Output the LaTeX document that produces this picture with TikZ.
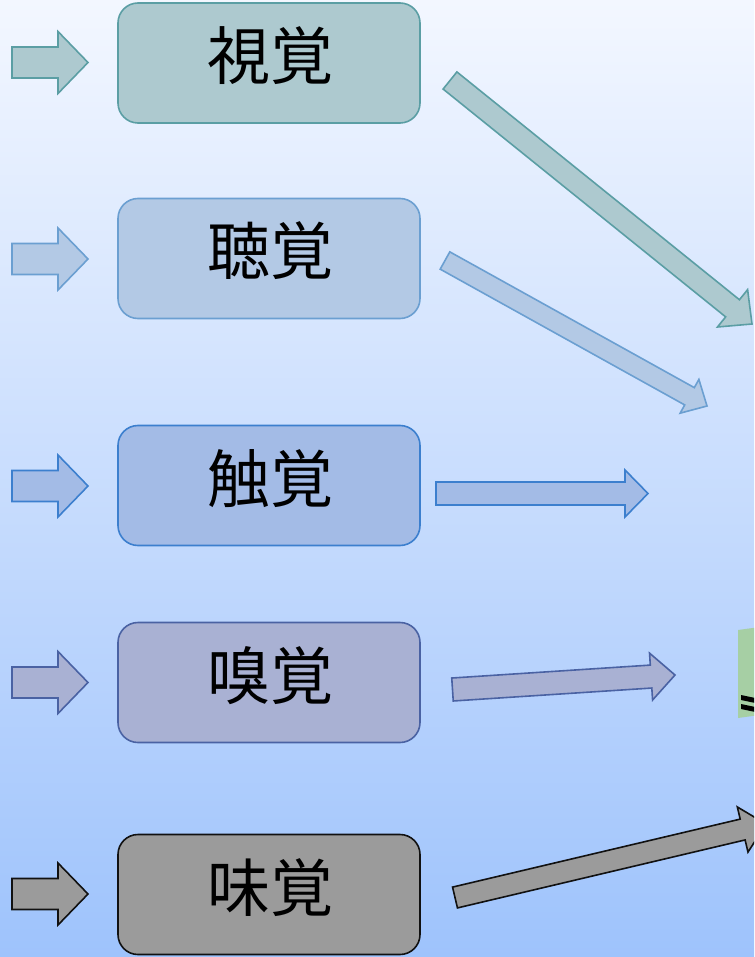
\documentclass[tikz,border=0pt]{standalone}
\usepackage{fontspec}
\newfontfamily\jpfont{Noto Sans CJK JP}
\usetikzlibrary{calc}
\definecolor{bgtop}{HTML}{F3F7FF}
\definecolor{bgbot}{HTML}{9EC3FC}
\definecolor{aF}{HTML}{ADC9CF}\definecolor{aD}{HTML}{5B9EA4}
\definecolor{bF}{HTML}{B3C9E5}\definecolor{bD}{HTML}{6B9FD1}
\definecolor{cF}{HTML}{A3BBE6}\definecolor{cD}{HTML}{3C7FCE}
\definecolor{dF}{HTML}{A9B1D3}\definecolor{dD}{HTML}{4A62A3}
\definecolor{eF}{HTML}{9B9B9B}\definecolor{eD}{HTML}{111111}
\definecolor{gF}{HTML}{A6CFA4}
\tikzset{
  sensebox/.style={rounded corners=20pt, line width=1.6pt, minimum width=302pt, minimum height=120pt, inner sep=0pt},
  lbl/.style={font=\jpfont\fontsize{63}{70}\selectfont, inner sep=0pt, anchor=base},
  stA/.style={fill=aF, draw=aD, line width=1.6pt},
  stB/.style={fill=bF, draw=bD, line width=1.6pt},
  stC/.style={fill=cF, draw=cD, line width=1.6pt},
  stD/.style={fill=dF, draw=dD, line width=1.6pt},
  stE/.style={fill=eF, draw=eD, line width=1.6pt},
}
% #1 style, #2 tail, #3 tip, #4 half shaft, #5 half head, #6 head length
\newcommand\blockarr[6]{%
  \coordinate (hb) at ($(#3)!#6!(#2)$);
  \path[#1] ($(#2)!#4!90:(#3)$) -- ($(hb)!#4!90:(#3)$) -- ($(hb)!#5!90:(#3)$) -- (#3)
    -- ($(hb)!#5!-90:(#3)$) -- ($(hb)!#4!-90:(#3)$) -- ($(#2)!#4!-90:(#3)$) -- cycle;
}
\begin{document}
\begin{tikzpicture}[x=1pt,y=-1pt]
\useasboundingbox (0,0) rectangle (754,957);
\clip (0,0) rectangle (754,957);
\shade[top color=bgtop,bottom color=bgbot] (0,0) rectangle (754,957);

% boxes
\node[sensebox, stA] (b1) at (269,63) {};
\node[sensebox, stB] (b2) at (269,258.5) {};
\node[sensebox, stC] (b3) at (269,485.5) {};
\node[sensebox, stD] (b4) at (269,682.5) {};
\node[sensebox, stE] (b5) at (269,894.5) {};

\node[lbl] (t1) at (270,79.5) {視覚};
\node[lbl] (t2) at (270,275) {聴覚};
\node[lbl] (t3) at (270,502) {触覚};
\node[lbl] (t4) at (270,699) {嗅覚};
\node[lbl] (t5) at (270,911) {味覚};

% input arrows
\coordinate (i1a) at (12,62.5);  \coordinate (i1b) at (88,62.5);
\coordinate (i2a) at (12,259);   \coordinate (i2b) at (88,259);
\coordinate (i3a) at (12,486);   \coordinate (i3b) at (88,486);
\coordinate (i4a) at (12,682.5); \coordinate (i4b) at (88,682.5);
\coordinate (i5a) at (12,894);   \coordinate (i5b) at (88,894);
\blockarr{stA}{i1a}{i1b}{15.5pt}{31pt}{30pt}
\blockarr{stB}{i2a}{i2b}{15.5pt}{31pt}{30pt}
\blockarr{stC}{i3a}{i3b}{15.5pt}{31pt}{30pt}
\blockarr{stD}{i4a}{i4b}{15.5pt}{31pt}{30pt}
\blockarr{stE}{i5a}{i5b}{15.5pt}{31pt}{30pt}

% output arrows
\coordinate (o1a) at (450,80.5);  \coordinate (o1b) at (752,324);
\coordinate (o2a) at (445,260.5); \coordinate (o2b) at (707,406);
\coordinate (o3a) at (436,493.5); \coordinate (o3b) at (648,493.5);
\coordinate (o4a) at (452.5,689.5); \coordinate (o4b) at (675,675);
\coordinate (o5a) at (455,897.5); \coordinate (o5b) at (766,824);
\blockarr{stA}{o1a}{o1b}{11pt}{24pt}{25pt}
\blockarr{stB}{o2a}{o2b}{9.9pt}{19.3pt}{20pt}
\blockarr{stC}{o3a}{o3b}{11.5pt}{23.5pt}{23pt}
\blockarr{stD}{o4a}{o4b}{11.5pt}{23.5pt}{24pt}
\blockarr{stE}{o5a}{o5b}{10.7pt}{23.2pt}{24pt}

% partially visible green block at right edge
\fill[gF] (738,630) -- (760,627) -- (760,715) -- (738,718) -- cycle;
\fill[black] (741,695) -- (760,699) -- (760,704) -- (741,700) -- cycle;
\fill[black] (741,704) -- (760,708) -- (760,713) -- (741,709) -- cycle;
\end{tikzpicture}
\end{document}
